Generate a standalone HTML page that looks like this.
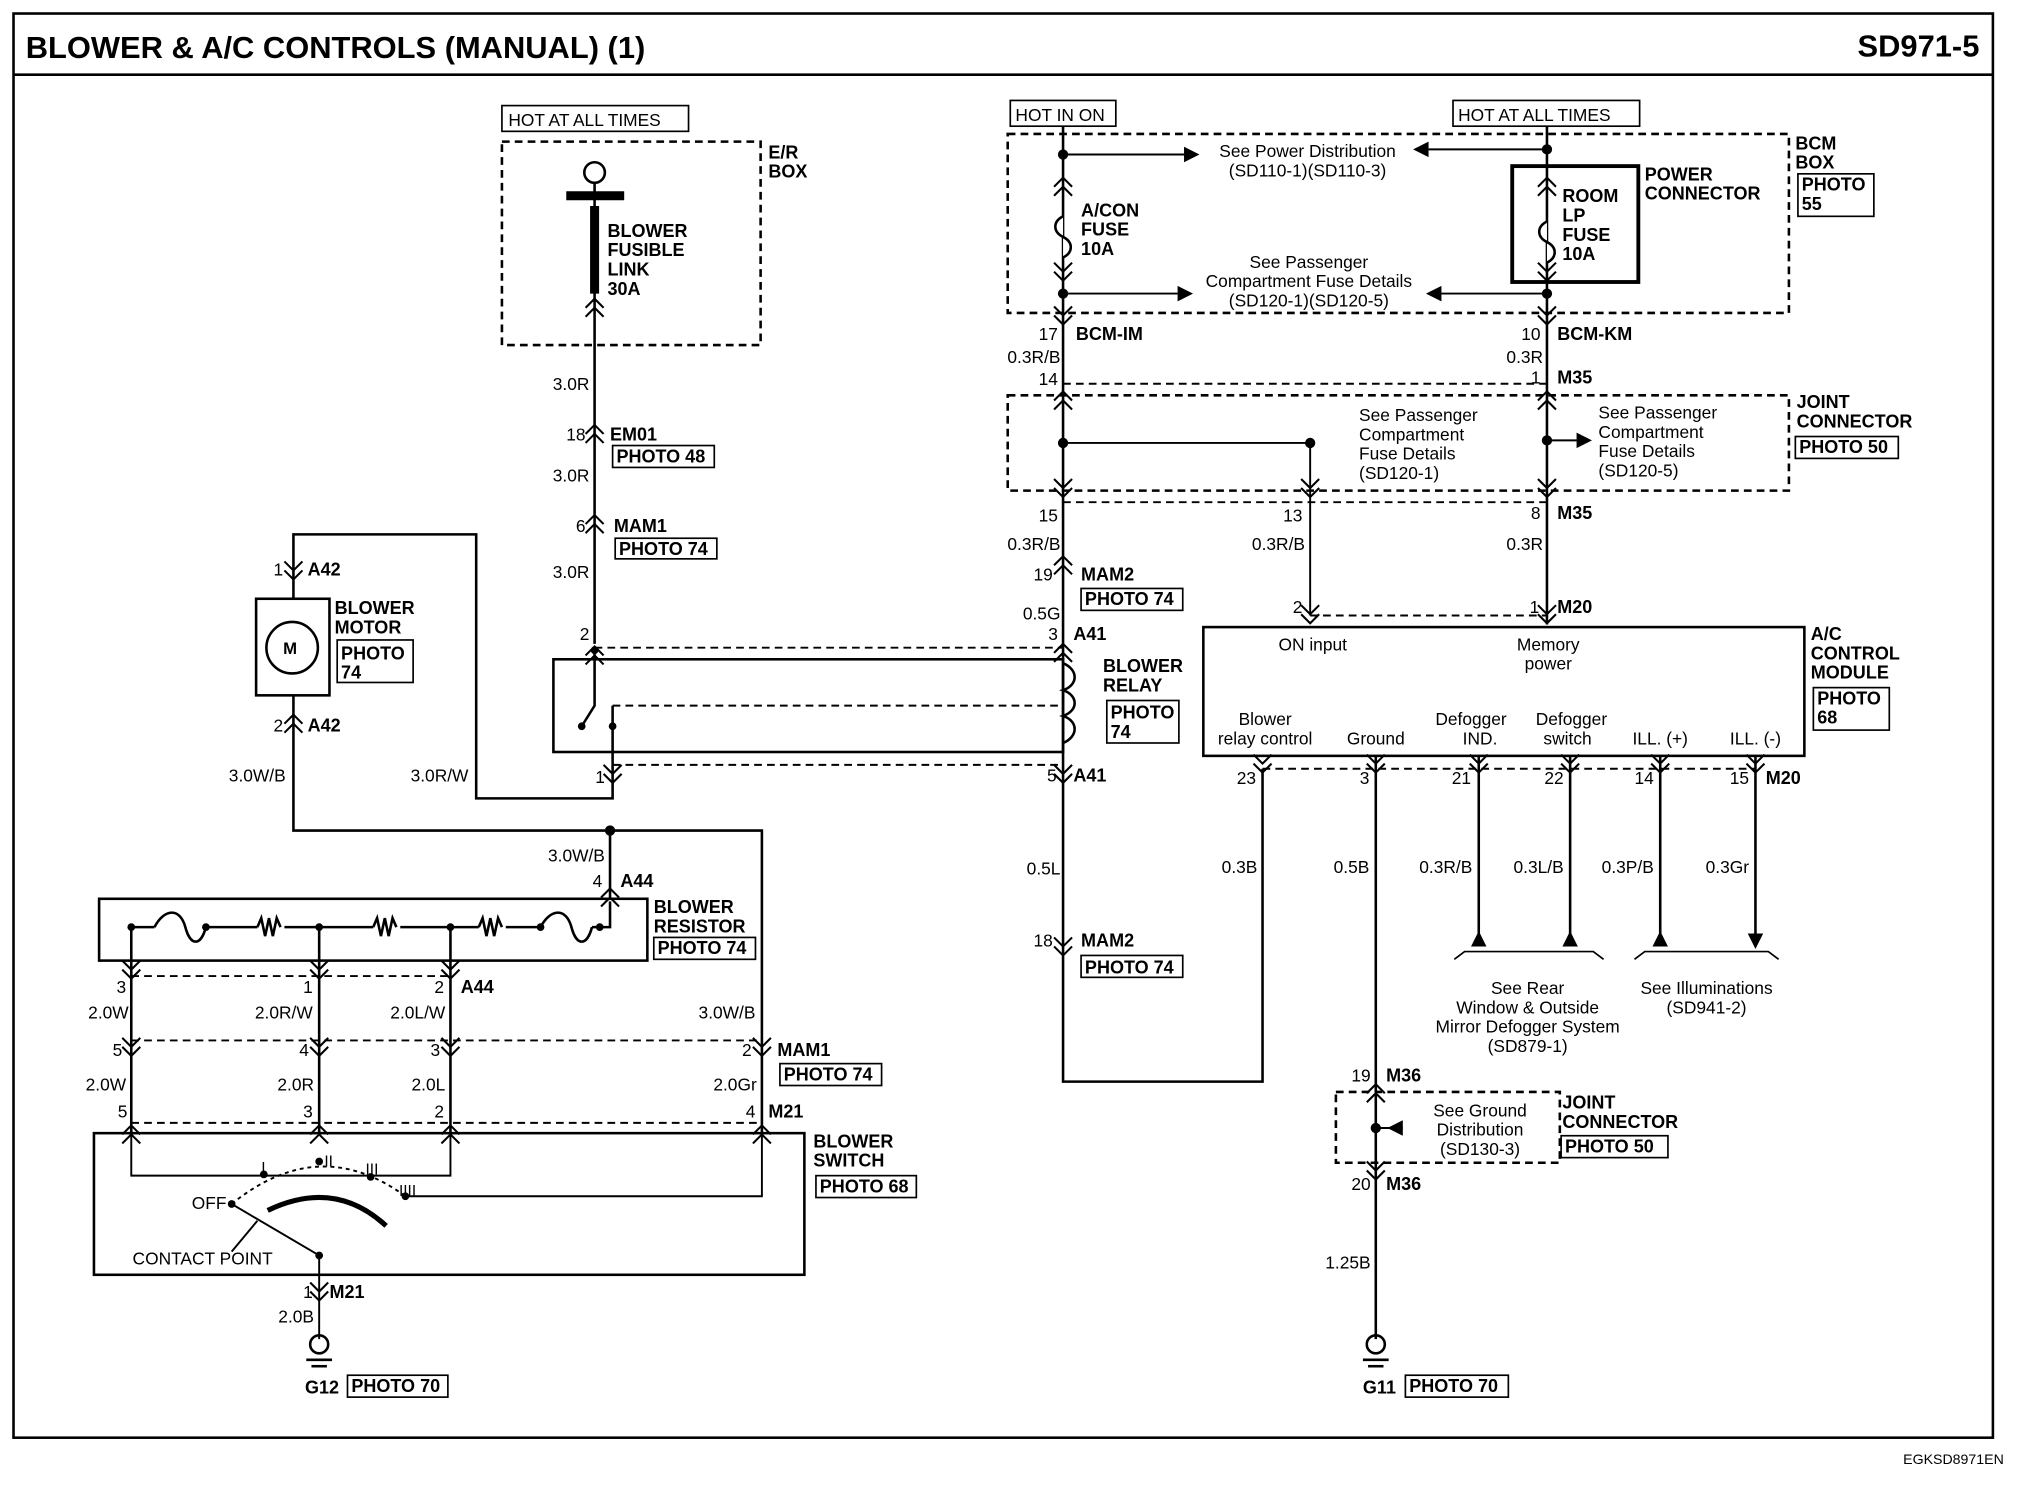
<!DOCTYPE html>
<html><head><meta charset="utf-8"><style>
html,body{margin:0;padding:0;background:#fff;}
svg{display:block;}
text{font-family:"Liberation Sans",sans-serif;fill:#000;}
.b{font-weight:bold;font-size:14px;}
.r{font-size:13.5px;}
.e{text-anchor:end;}
.m{text-anchor:middle;}
</style></head><body>
<svg width="2018" height="1504" viewBox="0 0 1568 1168" preserveAspectRatio="none" xmlns="http://www.w3.org/2000/svg">
<defs>
<path id="u" d="M-7 7 L0 0 L7 7 M-7 14 L0 7 L7 14" fill="none" stroke="#000" stroke-width="1.6"/>
<path id="d" d="M-7 -7 L0 0 L7 -7 M-7 -14 L0 -7 L7 -14" fill="none" stroke="#000" stroke-width="1.6"/>
</defs>
<rect x="0" y="0" width="1568" height="1168" fill="#fff"/>
<rect x="10.5" y="10.5" width="1538" height="1106" fill="none" stroke="#000" stroke-width="2"/>
<line x1="10" y1="58" x2="1548" y2="58" stroke="#000" stroke-width="2"/>
<text x="20" y="45" style="font-weight:bold;font-size:24px">BLOWER &amp; A/C CONTROLS (MANUAL) (1)</text>
<text x="1538" y="44" class="e" style="font-weight:bold;font-size:24px">SD971-5</text>
<text x="1557" y="1137" class="e" style="font-size:11px">EGKSD8971EN</text>

<g fill="none" stroke="#000" stroke-width="2">
<rect x="390" y="82" width="145" height="20" stroke-width="1.3"/>
<rect x="390" y="110" width="201" height="158" stroke-dasharray="6,4"/>
<circle cx="462" cy="134" r="8"/>
<line x1="462" y1="142" x2="462" y2="500"/>
<line x1="440" y1="152" x2="485" y2="152" stroke-width="7"/>
<line x1="462" y1="160" x2="462" y2="228" stroke-width="7"/>
<rect x="476" y="346" width="79" height="17" stroke-width="1.3"/>
<rect x="478" y="418" width="79" height="16" stroke-width="1.3"/>
<rect x="430" y="512" width="396" height="72"/>
<g stroke-dasharray="6,4" stroke-width="1.5">
<line x1="462" y1="503" x2="826" y2="503"/><line x1="476" y1="594" x2="826" y2="594"/>
<line x1="476" y1="548" x2="826" y2="548"/></g>
<polyline points="462,505 462,548 452,564"/><line x1="476" y1="548" x2="476" y2="594"/>
<path d="M826 515 C838 520 838 532 826 536 C838 540 838 552 826 556 C838 560 838 572 826 577"/>
<rect x="860" y="544" width="56" height="33" stroke-width="1.3"/>
<polyline points="476,594 476,620 370,620 370,415 228,415 228,440"/>
<rect x="199" y="465" width="57" height="75"/>
<circle cx="227" cy="503" r="20"/>
<line x1="228" y1="440" x2="228" y2="465"/><line x1="228" y1="540" x2="228" y2="565"/>
<polyline points="228,565 228,645 592,645 592,880"/>
<line x1="474" y1="645" x2="474" y2="698"/>
<rect x="262" y="497" width="59" height="33" stroke-width="1.3"/>
<rect x="77" y="698" width="426" height="48"/>
<polyline points="102,746 102,720 120,720"/>
<path d="M120 720 C128 705 140 705 144 720 C148 735 156 735 160 720"/>
<line x1="160" y1="720" x2="200" y2="720"/>
<path d="M200 720 l3 -7 l3 14 l3 -14 l3 14 l3 -14 l3 7" />
<line x1="221" y1="720" x2="290" y2="720"/>
<path d="M290 720 l3 -7 l3 14 l3 -14 l3 14 l3 -14 l3 7"/>
<line x1="311" y1="720" x2="372" y2="720"/>
<path d="M372 720 l3 -7 l3 14 l3 -14 l3 14 l3 -14 l3 7"/>
<line x1="393" y1="720" x2="420" y2="720"/>
<path d="M420 720 C428 705 440 705 444 720 C448 735 456 735 460 720"/>
<polyline points="460,720 474,720 474,700"/>
<rect x="508" y="728" width="79" height="17" stroke-width="1.3"/>
<line x1="102" y1="746" x2="102" y2="880"/><line x1="248" y1="720" x2="248" y2="880"/><line x1="350" y1="720" x2="350" y2="880"/>
<g stroke-dasharray="6,4" stroke-width="1.5">
<line x1="102" y1="758" x2="350" y2="758"/><line x1="102" y1="808" x2="592" y2="808"/><line x1="102" y1="872" x2="592" y2="872"/></g>
<rect x="606" y="826" width="79" height="17" stroke-width="1.3"/>
<rect x="73" y="880" width="552" height="110"/>
<polyline points="102,880 102,913 350,913 350,880" stroke-width="1.5"/>
<polyline points="592,880 592,929 315,929" stroke-width="1.5"/>
<path d="M180 935 Q248 880 315 929" stroke-dasharray="3,3" stroke-width="1.5"/>
<path d="M208 940 Q260 915 300 952" stroke-width="4"/>
<polyline points="180,935 248,975 248,1040" stroke-width="1.5"/>
<line x1="180" y1="972" x2="200" y2="948" stroke-width="1.5"/>
<rect x="634" y="913" width="78" height="17" stroke-width="1.3"/>
<circle cx="248" cy="1044" r="7"/><line x1="238" y1="1056" x2="258" y2="1056"/><line x1="242" y1="1061" x2="254" y2="1061"/>
<rect x="270" y="1068" width="78" height="17" stroke-width="1.3"/>
<polyline points="826,98 826,840 981,840 981,597"/>
<rect x="785" y="78" width="82" height="20" stroke-width="1.3"/>
<rect x="1129" y="78" width="145" height="20" stroke-width="1.3"/>
<rect x="783" y="104" width="607" height="139" stroke-dasharray="6,4"/>
<line x1="1202" y1="98" x2="1202" y2="485"/>
<rect x="1175" y="129" width="98" height="90" stroke-width="3"/>
<path d="M826 168 c-8 4 -8 12 0 16 c8 4 8 12 0 16" fill="#fff"/>
<path d="M1202 172 c-8 4 -8 12 0 16 c8 4 8 12 0 16" fill="#fff"/>
<line x1="826" y1="120" x2="920" y2="120" stroke-width="1.5"/>
<line x1="1202" y1="116" x2="1110" y2="116" stroke-width="1.5"/>
<line x1="826" y1="228" x2="915" y2="228" stroke-width="1.5"/>
<line x1="1202" y1="228" x2="1120" y2="228" stroke-width="1.5"/>
<rect x="1397" y="135" width="59" height="33" stroke-width="1.3"/>
<g stroke-dasharray="6,4" stroke-width="1.5"><line x1="826" y1="298" x2="1202" y2="298"/><line x1="826" y1="390" x2="1202" y2="390"/><line x1="1018" y1="478" x2="1202" y2="478"/></g>
<rect x="783" y="307" width="607" height="74" stroke-dasharray="6,4"/>
<polyline points="826,344 1018,344 1018,478" stroke-width="1.5"/>
<line x1="1202" y1="342" x2="1225" y2="342" stroke-width="1.5"/>
<rect x="1395" y="339" width="80" height="17" stroke-width="1.3"/>
<rect x="840" y="457" width="79" height="17" stroke-width="1.3"/>
<rect x="840" y="742" width="79" height="17" stroke-width="1.3"/>
<rect x="935" y="487" width="467" height="100"/>
<rect x="1409" y="534" width="59" height="33" stroke-width="1.3"/>
<line x1="981" y1="597" x2="1364" y2="597" stroke-dasharray="6,4" stroke-width="1.5"/>
<line x1="1069" y1="587" x2="1069" y2="1040"/>
<line x1="1149" y1="587" x2="1149" y2="735"/><line x1="1220" y1="587" x2="1220" y2="735"/>
<line x1="1290" y1="587" x2="1290" y2="735"/><line x1="1364" y1="587" x2="1364" y2="735"/>
<path d="M1130 745 l8 -6 l100 0 l8 6" stroke-width="1.3"/>
<path d="M1270 745 l8 -6 l96 0 l8 6" stroke-width="1.3"/>
<rect x="1038" y="848" width="174" height="55" stroke-dasharray="6,4"/>
<line x1="1069" y1="876" x2="1090" y2="876" stroke-width="1.5"/>
<rect x="1213" y="882" width="83" height="17" stroke-width="1.3"/>
<circle cx="1069" cy="1044" r="7"/><line x1="1059" y1="1056" x2="1079" y2="1056"/><line x1="1063" y1="1061" x2="1075" y2="1061"/>
<rect x="1092" y="1068" width="80" height="17" stroke-width="1.3"/>
</g>
<g fill="#000">
<polygon points="920,114 932,120 920,126"/><polygon points="1110,110 1098,116 1110,122"/>
<polygon points="915,222 927,228 915,234"/><polygon points="1120,222 1108,228 1120,234"/>
<polygon points="1225,336 1237,342 1225,348"/>
<polygon points="1143,735 1149,723 1155,735"/><polygon points="1214,735 1220,723 1226,735"/>
<polygon points="1284,735 1290,723 1296,735"/><polygon points="1358,725 1364,737 1370,725"/>
<polygon points="1090,870 1078,876 1090,882"/>
<circle cx="826" cy="120" r="4"/><circle cx="826" cy="228" r="4"/><circle cx="1202" cy="116" r="4"/><circle cx="1202" cy="228" r="4"/>
<circle cx="826" cy="344" r="4"/><circle cx="1018" cy="344" r="4"/><circle cx="1202" cy="342" r="4"/><circle cx="1069" cy="876" r="4"/>
<circle cx="474" cy="645" r="4"/><circle cx="102" cy="720" r="3"/><circle cx="160" cy="720" r="3"/><circle cx="248" cy="720" r="3"/><circle cx="350" cy="720" r="3"/><circle cx="420" cy="720" r="3"/><circle cx="466" cy="720" r="3"/>
<circle cx="248" cy="902" r="3"/><circle cx="205" cy="912" r="3"/><circle cx="288" cy="914" r="3"/><circle cx="315" cy="929" r="3"/><circle cx="180" cy="935" r="3"/><circle cx="248" cy="975" r="3"/>
<circle cx="462" cy="505" r="3"/><circle cx="452" cy="564" r="3"/><circle cx="476" cy="564" r="3"/>
</g>
<use href="#u" x="462" y="232"/><use href="#u" x="462" y="330"/><use href="#u" x="462" y="400"/><use href="#u" x="462" y="502"/>
<use href="#d" x="476" y="608"/><use href="#d" x="228" y="450"/><use href="#u" x="228" y="555"/>
<use href="#u" x="474" y="690"/><use href="#d" x="102" y="760"/><use href="#d" x="248" y="760"/><use href="#d" x="350" y="760"/>
<use href="#d" x="102" y="820"/><use href="#d" x="248" y="820"/><use href="#d" x="350" y="820"/><use href="#d" x="592" y="820"/>
<use href="#u" x="102" y="874"/><use href="#u" x="248" y="874"/><use href="#u" x="350" y="874"/><use href="#u" x="592" y="874"/>
<use href="#d" x="248" y="1010"/>
<use href="#u" x="826" y="138"/><use href="#d" x="826" y="218"/><use href="#d" x="826" y="252"/><use href="#u" x="826" y="304"/><use href="#d" x="826" y="386"/><use href="#u" x="826" y="432"/><use href="#u" x="826" y="500"/><use href="#d" x="826" y="608"/><use href="#d" x="826" y="742"/>
<use href="#u" x="1202" y="138"/><use href="#d" x="1202" y="218"/><use href="#d" x="1202" y="252"/><use href="#u" x="1202" y="304"/><use href="#d" x="1202" y="386"/><use href="#d" x="1202" y="484"/>
<use href="#d" x="1018" y="386"/><use href="#d" x="1018" y="484"/>
<use href="#d" x="981" y="600"/><use href="#d" x="1069" y="600"/><use href="#d" x="1149" y="600"/><use href="#d" x="1220" y="600"/><use href="#d" x="1290" y="600"/><use href="#d" x="1364" y="600"/>
<use href="#u" x="1069" y="842"/><use href="#d" x="1069" y="916"/>

<g class="r">
<text x="395" y="98">HOT AT ALL TIMES</text>
<text x="789" y="94">HOT IN ON</text>
<text x="1133" y="94">HOT AT ALL TIMES</text>
<text x="458" y="303" class="e">3.0R</text><text x="455" y="342" class="e">18</text><text x="458" y="374" class="e">3.0R</text>
<text x="455" y="413" class="e">6</text><text x="458" y="449" class="e">3.0R</text><text x="458" y="497" class="e">2</text>
<text x="470" y="608" class="e">1</text><text x="364" y="607" class="e">3.0R/W</text><text x="222" y="607" class="e">3.0W/B</text>
<text x="220" y="447" class="e">1</text><text x="220" y="568" class="e">2</text>
<text x="470" y="669" class="e">3.0W/B</text><text x="468" y="689" class="e">4</text>
<text x="98" y="771" class="e">3</text><text x="243" y="771" class="e">1</text><text x="345" y="771" class="e">2</text>
<text x="100" y="791" class="e">2.0W</text><text x="243" y="791" class="e">2.0R/W</text><text x="346" y="791" class="e">2.0L/W</text><text x="587" y="791" class="e">3.0W/B</text>
<text x="95" y="820" class="e">5</text><text x="240" y="820" class="e">4</text><text x="342" y="820" class="e">3</text><text x="584" y="820" class="e">2</text>
<text x="98" y="847" class="e">2.0W</text><text x="244" y="847" class="e">2.0R</text><text x="346" y="847" class="e">2.0L</text><text x="588" y="847" class="e">2.0Gr</text>
<text x="99" y="868" class="e">5</text><text x="243" y="868" class="e">3</text><text x="345" y="868" class="e">2</text><text x="587" y="868" class="e">4</text>
<text x="243" y="1008" class="e">1</text><text x="244" y="1027" class="e">2.0B</text>
<text x="149" y="939">OFF</text><text x="103" y="982">CONTACT POINT</text>
<text x="203" y="911" style="font-size:12px">I</text><text x="252" y="906" style="font-size:12px">II</text><text x="284" y="912" style="font-size:12px">III</text><text x="310" y="929" style="font-size:12px">IIII</text>
<text x="822" y="264" class="e">17</text><text x="824" y="282" class="e">0.3R/B</text><text x="822" y="299" class="e">14</text>
<text x="822" y="405" class="e">15</text><text x="824" y="427" class="e">0.3R/B</text><text x="818" y="451" class="e">19</text>
<text x="824" y="481" class="e">0.5G</text><text x="822" y="497" class="e">3</text><text x="821" y="607" class="e">5</text>
<text x="824" y="679" class="e">0.5L</text><text x="818" y="735" class="e">18</text>
<text x="1197" y="264" class="e">10</text><text x="1199" y="282" class="e">0.3R</text><text x="1197" y="298" class="e">1</text>
<text x="1012" y="405" class="e">13</text><text x="1014" y="427" class="e">0.3R/B</text><text x="1197" y="403" class="e">8</text><text x="1199" y="427" class="e">0.3R</text>
<text x="1012" y="476" class="e">2</text><text x="1196" y="476" class="e">1</text>
<text x="1020" y="505" class="m">ON input</text><text x="1203" y="505" class="m">Memory</text><text x="1203" y="520" class="m">power</text>
<text x="983" y="563" class="m">Blower</text><text x="983" y="578" class="m">relay control</text>
<text x="1069" y="578" class="m">Ground</text>
<text x="1143" y="563" class="m">Defogger</text><text x="1150" y="578" class="m">IND.</text>
<text x="1221" y="563" class="m">Defogger</text><text x="1218" y="578" class="m">switch</text>
<text x="1290" y="578" class="m">ILL. (+)</text><text x="1364" y="578" class="m">ILL. (-)</text>
<text x="976" y="609" class="e">23</text><text x="1064" y="609" class="e">3</text><text x="1143" y="609" class="e">21</text><text x="1215" y="609" class="e">22</text><text x="1285" y="609" class="e">14</text><text x="1359" y="609" class="e">15</text>
<text x="977" y="678" class="e">0.3B</text><text x="1064" y="678" class="e">0.5B</text><text x="1144" y="678" class="e">0.3R/B</text><text x="1215" y="678" class="e">0.3L/B</text><text x="1285" y="678" class="e">0.3P/B</text><text x="1359" y="678" class="e">0.3Gr</text>
<text x="1187" y="772" class="m">See Rear</text><text x="1187" y="787" class="m">Window &amp; Outside</text><text x="1187" y="802" class="m">Mirror Defogger System</text><text x="1187" y="817" class="m">(SD879-1)</text>
<text x="1326" y="772" class="m">See Illuminations</text><text x="1326" y="787" class="m">(SD941-2)</text>
<text x="1065" y="840" class="e">19</text><text x="1065" y="924" class="e">20</text><text x="1065" y="985" class="e">1.25B</text>
<text x="1150" y="867" class="m">See Ground</text><text x="1150" y="882" class="m">Distribution</text><text x="1150" y="897" class="m">(SD130-3)</text>
<text x="1016" y="122" class="m">See Power Distribution</text><text x="1016" y="137" class="m">(SD110-1)(SD110-3)</text>
<text x="1017" y="208" class="m">See Passenger</text><text x="1017" y="223" class="m">Compartment Fuse Details</text><text x="1017" y="238" class="m">(SD120-1)(SD120-5)</text>
<text x="1056" y="327">See Passenger</text><text x="1056" y="342">Compartment</text><text x="1056" y="357">Fuse Details</text><text x="1056" y="372">(SD120-1)</text>
<text x="1242" y="325">See Passenger</text><text x="1242" y="340">Compartment</text><text x="1242" y="355">Fuse Details</text><text x="1242" y="370">(SD120-5)</text>
</g>
<g class="b">
<text x="597" y="123">E/R</text><text x="597" y="138">BOX</text>
<text x="472" y="184">BLOWER</text><text x="472" y="199">FUSIBLE</text><text x="472" y="214">LINK</text><text x="472" y="229">30A</text>
<text x="474" y="342">EM01</text><text x="479" y="359">PHOTO 48</text>
<text x="477" y="413">MAM1</text><text x="481" y="431">PHOTO 74</text>
<text x="239" y="447">A42</text><text x="239" y="568">A42</text>
<text x="220" y="508" style="font-size:13px">M</text>
<text x="260" y="477">BLOWER</text><text x="260" y="492">MOTOR</text><text x="265" y="512">PHOTO</text><text x="265" y="527">74</text>
<text x="857" y="522">BLOWER</text><text x="857" y="537">RELAY</text><text x="863" y="558">PHOTO</text><text x="863" y="573">74</text>
<text x="482" y="689">A44</text><text x="508" y="709">BLOWER</text><text x="508" y="724">RESISTOR</text><text x="511" y="741">PHOTO 74</text>
<text x="358" y="771">A44</text><text x="604" y="820">MAM1</text><text x="609" y="839">PHOTO 74</text><text x="597" y="868">M21</text>
<text x="632" y="891">BLOWER</text><text x="632" y="906">SWITCH</text><text x="637" y="926">PHOTO 68</text>
<text x="256" y="1008">M21</text><text x="237" y="1082">G12</text><text x="273" y="1081">PHOTO 70</text>
<text x="840" y="168">A/CON</text><text x="840" y="183">FUSE</text><text x="840" y="198">10A</text>
<text x="1214" y="157">ROOM</text><text x="1214" y="172">LP</text><text x="1214" y="187">FUSE</text><text x="1214" y="202">10A</text>
<text x="1278" y="140">POWER</text><text x="1278" y="155">CONNECTOR</text>
<text x="1395" y="116">BCM</text><text x="1395" y="131">BOX</text><text x="1400" y="148">PHOTO</text><text x="1400" y="163">55</text>
<text x="836" y="264">BCM-IM</text><text x="1210" y="264">BCM-KM</text><text x="1210" y="298">M35</text>
<text x="1396" y="317">JOINT</text><text x="1396" y="332">CONNECTOR</text><text x="1398" y="352">PHOTO 50</text>
<text x="1210" y="403">M35</text><text x="840" y="451">MAM2</text><text x="843" y="470">PHOTO 74</text>
<text x="834" y="497">A41</text><text x="834" y="607">A41</text><text x="1210" y="476">M20</text><text x="1372" y="609">M20</text>
<text x="1407" y="497">A/C</text><text x="1407" y="512">CONTROL</text><text x="1407" y="527">MODULE</text><text x="1412" y="547">PHOTO</text><text x="1412" y="562">68</text>
<text x="840" y="735">MAM2</text><text x="843" y="756">PHOTO 74</text>
<text x="1077" y="840">M36</text><text x="1077" y="924">M36</text>
<text x="1214" y="861">JOINT</text><text x="1214" y="876">CONNECTOR</text><text x="1216" y="895">PHOTO 50</text>
<text x="1059" y="1082">G11</text><text x="1095" y="1081">PHOTO 70</text>
</g>
</svg>
</body></html>
